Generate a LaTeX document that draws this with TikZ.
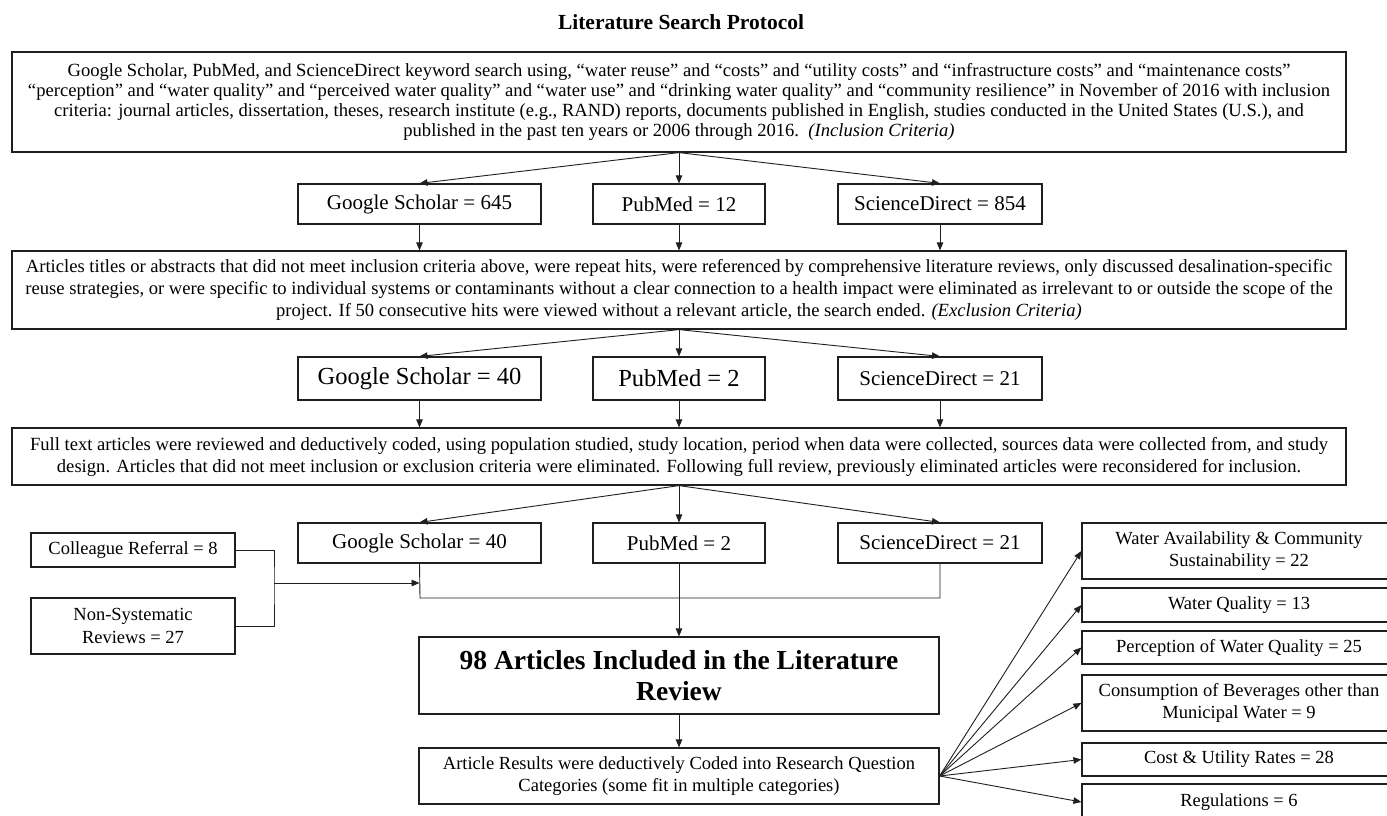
\documentclass[tikz,border=0pt]{standalone}
\usepackage{fontspec}
\setmainfont{Liberation Serif}
\usetikzlibrary{arrows.meta,calc}
\begin{document}
\begin{tikzpicture}[x=1pt,y=-1pt,
  frame/.style={draw=black!88, line width=1.2pt, inner sep=0pt, align=center},
  conn/.style={draw=black!88, line width=0.9pt, -{Triangle[length=8pt,width=6.5pt]}},
  plain/.style={draw=black!88, line width=0.9pt},
  body/.style={font=\fontsize{18.6}{22}\selectfont},
  mid/.style={font=\fontsize{21}{24}\selectfont},
  big/.style={font=\fontsize{24.5}{28}\selectfont},
  side/.style={font=\fontsize{18.5}{22.5}\selectfont},
  rbox/.style={frame, side, minimum width=314pt}
]
\clip (0,0) rectangle (1387,815);
\fill[white] (0,0) rectangle (1387,815);

\node[font=\bfseries\fontsize{21.5}{24}\selectfont] (title) at (681,22) {Literature Search Protocol};

\node[frame, font=\fontsize{18.6}{20}\selectfont, minimum width=1334pt, minimum height=100pt] (top) at (679,102)
{Google Scholar, PubMed, and ScienceDirect keyword search using, “water reuse” and “costs” and “utility costs” and “infrastructure costs” and “maintenance costs”\\
“perception” and “water quality” and “perceived water quality” and “water use” and “drinking water quality” and “community resilience” in November of 2016 with inclusion\\
criteria: journal articles, dissertation, theses, research institute (e.g., RAND) reports, documents published in English, studies conducted in the United States (U.S.), and\\
published in the past ten years or 2006 through 2016.\ \ \textit{(Inclusion Criteria)}};

\node[frame, mid, minimum width=243pt, minimum height=40pt] (gs1) at (419.5,204) {Google Scholar = 645};
\node[frame, mid, minimum width=172pt, minimum height=40pt] (pm1) at (679,204) {PubMed = 12};
\node[frame, mid, minimum width=204pt, minimum height=40pt] (sd1) at (940,204) {ScienceDirect = 854};

\node[frame, body, minimum width=1334pt, minimum height=78pt] (ex) at (679,290)
{Articles titles or abstracts that did not meet inclusion criteria above, were repeat hits, were referenced by comprehensive literature reviews, only discussed desalination-specific\\
reuse strategies, or were specific to individual systems or contaminants without a clear connection to a health impact were eliminated as irrelevant to or outside the scope of the\\
project. If 50 consecutive hits were viewed without a relevant article, the search ended. \textit{(Exclusion Criteria)}};

\node[frame, big, minimum width=243pt, minimum height=43pt] (gs2) at (419.5,378.5) {Google Scholar = 40};
\node[frame, big, minimum width=172pt, minimum height=43pt] (pm2) at (679,378.5) {PubMed = 2};
\node[frame, mid, minimum width=204pt, minimum height=43pt] (sd2) at (940,378.5) {ScienceDirect = 21};

\node[frame, body, minimum width=1334pt, minimum height=57pt] (full) at (679,456.5)
{Full text articles were reviewed and deductively coded, using population studied, study location, period when data were collected, sources data were collected from, and study\\
design. Articles that did not meet inclusion or exclusion criteria were eliminated. Following full review, previously eliminated articles were reconsidered for inclusion.};

\node[frame, mid, minimum width=243pt, minimum height=40pt] (gs3) at (419.5,543) {Google Scholar = 40};
\node[frame, mid, minimum width=172pt, minimum height=40pt] (pm3) at (679,543) {PubMed = 2};
\node[frame, mid, minimum width=204pt, minimum height=40pt] (sd3) at (940,543) {ScienceDirect = 21};

\node[frame, side, minimum width=204pt, minimum height=34pt] (col) at (133,550) {Colleague Referral = 8};
\node[frame, side, minimum width=204pt, minimum height=56pt] (ns) at (133,626) {Non-Systematic\\Reviews = 27};

\node[frame, font=\bfseries\fontsize{27.5}{31}\selectfont, minimum width=520pt, minimum height=77pt] (art) at (679,675.5)
{98 Articles Included in the Literature\\Review};

\node[frame, side, minimum width=520pt, minimum height=56pt] (res) at (679,776)
{Article Results were deductively Coded into Research Question\\Categories (some fit in multiple categories)};

\node[rbox, minimum height=56pt] (r1) at (1239,551) {Water Availability \& Community\\Sustainability = 22};
\node[rbox, minimum height=34pt] (r2) at (1239,605) {Water Quality = 13};
\node[rbox, minimum height=33pt] (r3) at (1239,647.5) {Perception of Water Quality = 25};
\node[rbox, minimum height=56pt] (r4) at (1239,703) {Consumption of Beverages other than\\Municipal Water = 9};
\node[rbox, minimum height=33pt] (r5) at (1239,759.5) {Cost \& Utility Rates = 28};
\node[rbox, minimum height=36pt] (r6) at (1239,802) {Regulations = 6};

% connectors
\draw[conn] (top.south) -- (gs1.north);
\draw[conn] (top.south) -- (pm1.north);
\draw[conn] (top.south) -- (sd1.north);
\draw[conn] (gs1.south) -- (gs1.south |- ex.north);
\draw[conn] (pm1.south) -- (ex.north);
\draw[conn] (sd1.south) -- (sd1.south |- ex.north);

\draw[conn] (ex.south) -- (gs2.north);
\draw[conn] (ex.south) -- (pm2.north);
\draw[conn] (ex.south) -- (sd2.north);
\draw[conn] (gs2.south) -- (gs2.south |- full.north);
\draw[conn] (pm2.south) -- (full.north);
\draw[conn] (sd2.south) -- (sd2.south |- full.north);

\draw[conn] (full.south) -- (gs3.north);
\draw[conn] (full.south) -- (pm3.north);
\draw[conn] (full.south) -- (sd3.north);

\coordinate (brk) at (274,583);
\coordinate (low) at (420,598);
\draw[plain] (col.east) -| (brk) |- (ns.east);
\draw[conn] (brk) -- (brk -| gs3.south);
\draw[plain] (gs3.south) -- (low) -| (sd3.south);
\draw[conn] (pm3.south) -- (art.north);
\draw[conn] (art.south) -- (res.north);

\draw[conn] (res.east) -- (r1.west);
\draw[conn] (res.east) -- (r2.west);
\draw[conn] (res.east) -- (r3.west);
\draw[conn] (res.east) -- (r4.west);
\draw[conn] (res.east) -- (r5.west);
\draw[conn] (res.east) -- (r6.west);
\end{tikzpicture}
\end{document}
